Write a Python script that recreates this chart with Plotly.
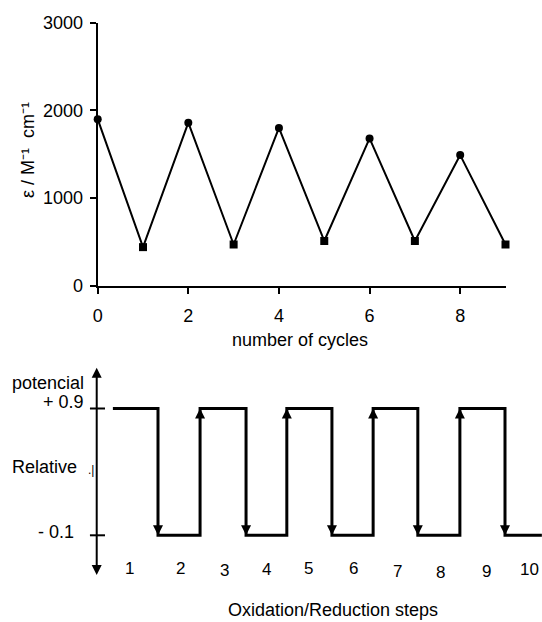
import plotly.graph_objects as go

W, H = 542, 622

# ---------------- data: top panel ----------------
cycles = [0, 1, 2, 3, 4, 5, 6, 7, 8, 9]
epsilon = [1900, 440, 1860, 470, 1800, 510, 1680, 510, 1490, 470]
state = ["ox", "red", "ox", "red", "ox", "red", "ox", "red", "ox", "red"]
x_ticks = [0, 2, 4, 6, 8]
y_ticks = [0, 1000, 2000, 3000]

# ---------------- data: bottom panel (schematic) ----------------
level_high = 0.9
level_low = -0.1
wave_start = 0.46
wave_end = 10.35
transitions = [1.5, 2.47, 3.53, 4.47, 5.51, 6.46, 7.49, 8.46, 9.5]
axis_x = 0.087
axis_top = 1.222
axis_bottom = -0.413
tick_left = -0.069
tick_right = 0.278
step_labels = ["1", "2", "3", "4", "5", "6", "7", "8", "9", "10"]
step_label_x = [0.84, 2.03, 3.04, 4.00, 4.96, 6.00, 7.03, 8.02, 9.07, 10.06]
step_label_y = [-0.360, -0.358, -0.375, -0.373, -0.365, -0.358, -0.382, -0.390, -0.382, -0.367]

# ---------------- geometry helpers (pixel -> paper) ----------------
def px(xp):
    return xp / W

def py(yp):
    return 1 - yp / H

FONT = "Liberation Sans, Arial, Helvetica, sans-serif"

fig = go.Figure()

# top panel trace
sym = ["circle" if s == "ox" else "square" for s in state]
fig.add_trace(go.Scatter(
    x=cycles, y=epsilon, mode="lines+markers",
    line=dict(color="black", width=2),
    marker=dict(symbol=sym, size=8, color="black"),
    cliponaxis=False, xaxis="x", yaxis="y", showlegend=False,
))

# bottom panel: square wave
wx, wy = [wave_start], [level_high]
lvl = level_high
for t in transitions:
    other = level_low if lvl == level_high else level_high
    wx += [t, t]
    wy += [lvl, other]
    lvl = other
wx.append(wave_end)
wy.append(lvl)
fig.add_trace(go.Scatter(
    x=wx, y=wy, mode="lines", line=dict(color="black", width=3),
    xaxis="x2", yaxis="y2", showlegend=False, cliponaxis=False,
))

# arrowheads on the transitions
ax_, ay_, asym = [], [], []
lvl = level_high
for t in transitions:
    if lvl == level_high:
        ax_.append(t); ay_.append(level_low); asym.append("arrow-down")
        lvl = level_low
    else:
        ax_.append(t); ay_.append(level_high); asym.append("arrow-up")
        lvl = level_high
fig.add_trace(go.Scatter(
    x=ax_, y=ay_, mode="markers",
    marker=dict(symbol=asym, size=10, color="black", line=dict(width=0)),
    xaxis="x2", yaxis="y2", showlegend=False, cliponaxis=False,
))

# vertical double-arrow axis
fig.add_trace(go.Scatter(
    x=[axis_x, axis_x], y=[axis_bottom + 0.04, axis_top - 0.04], mode="lines",
    line=dict(color="black", width=2),
    xaxis="x2", yaxis="y2", showlegend=False, cliponaxis=False,
))
fig.add_trace(go.Scatter(
    x=[axis_x, axis_x], y=[axis_top, axis_bottom], mode="markers",
    marker=dict(symbol=["arrow-up", "arrow-down"], size=10, color="black", line=dict(width=0)),
    xaxis="x2", yaxis="y2", showlegend=False, cliponaxis=False,
))
# tick marks on the schematic axis
fig.add_trace(go.Scatter(
    x=[tick_left, tick_right, None, tick_left, tick_right],
    y=[level_high, level_high, None, level_low, level_low], mode="lines",
    line=dict(color="black", width=2),
    xaxis="x2", yaxis="y2", showlegend=False, cliponaxis=False,
))

annotations = []
for lab, lx, ly in zip(step_labels, step_label_x, step_label_y):
    annotations.append(dict(x=lx, y=ly, xref="x2", yref="y2", text=lab,
                            xanchor="center", yanchor="middle",
                            showarrow=False, font=dict(size=17, color="black", family=FONT)))


def label(xp, yp, text, xanchor="center", size=18, angle=0):
    return dict(x=px(xp), y=py(yp), xref="paper", yref="paper", text=text,
                xanchor=xanchor, yanchor="middle", textangle=angle,
                showarrow=False, font=dict(size=size, color="black", family=FONT))


annotations += [
    label(86, 383, "potencial", "right"),
    label(86, 402, "+ 0.9", "right"),
    label(10, 467, "Relative", "left"),
    label(91, 470, ".|", "center", size=12),
    label(76, 532, "- 0.1", "right"),
    label(333, 610, "Oxidation/Reduction steps"),
    label(300, 340, "number of cycles"),
    label(28, 150, "ε / M⁻¹  cm⁻¹", "center", angle=-90),
]

# bottom axis mapping (pixels -> units)
bx_unit = 43.375
bx0 = 1.5 - 158 / bx_unit
bx1 = 1.5 + (W - 158) / bx_unit
by_unit = 126.8
by_top_px = 355
by0 = -0.1 - (H - 535.3) / by_unit
by1 = 0.9 + (408.5 - by_top_px) / by_unit

fig.update_layout(
    width=W, height=H,
    margin=dict(l=0, r=0, t=0, b=0, autoexpand=False),
    paper_bgcolor="white", plot_bgcolor="white",
    font=dict(family=FONT, color="black"),
    showlegend=False,
    xaxis=dict(
        domain=[px(97.7), px(505.5)], range=[0, 9], anchor="y", automargin=False,
        showline=True, linewidth=2, linecolor="black",
        ticks="outside", ticklen=6, tickwidth=2, tickcolor="black",
        tickvals=x_ticks, showgrid=False, zeroline=False,
        tickfont=dict(size=18), ticklabelstandoff=7,
    ),
    yaxis=dict(
        domain=[py(285.7), py(22.7)], range=[0, 3000], anchor="x", automargin=False,
        showline=True, linewidth=2, linecolor="black",
        ticks="outside", ticklen=6, tickwidth=2, tickcolor="black",
        tickvals=y_ticks, showgrid=False, zeroline=False,
        tickfont=dict(size=18), ticklabelstandoff=3,
    ),
    xaxis2=dict(domain=[0, 1], range=[bx0, bx1], anchor="y2", visible=False, automargin=False),
    yaxis2=dict(domain=[0, py(by_top_px)], range=[by0, by1], anchor="x2", visible=False, automargin=False),
    annotations=annotations,
)

fig.write_html("out.html", config={"displayModeBar": False},
               post_script="document.body.style.margin='0';document.body.style.overflow='hidden';")
